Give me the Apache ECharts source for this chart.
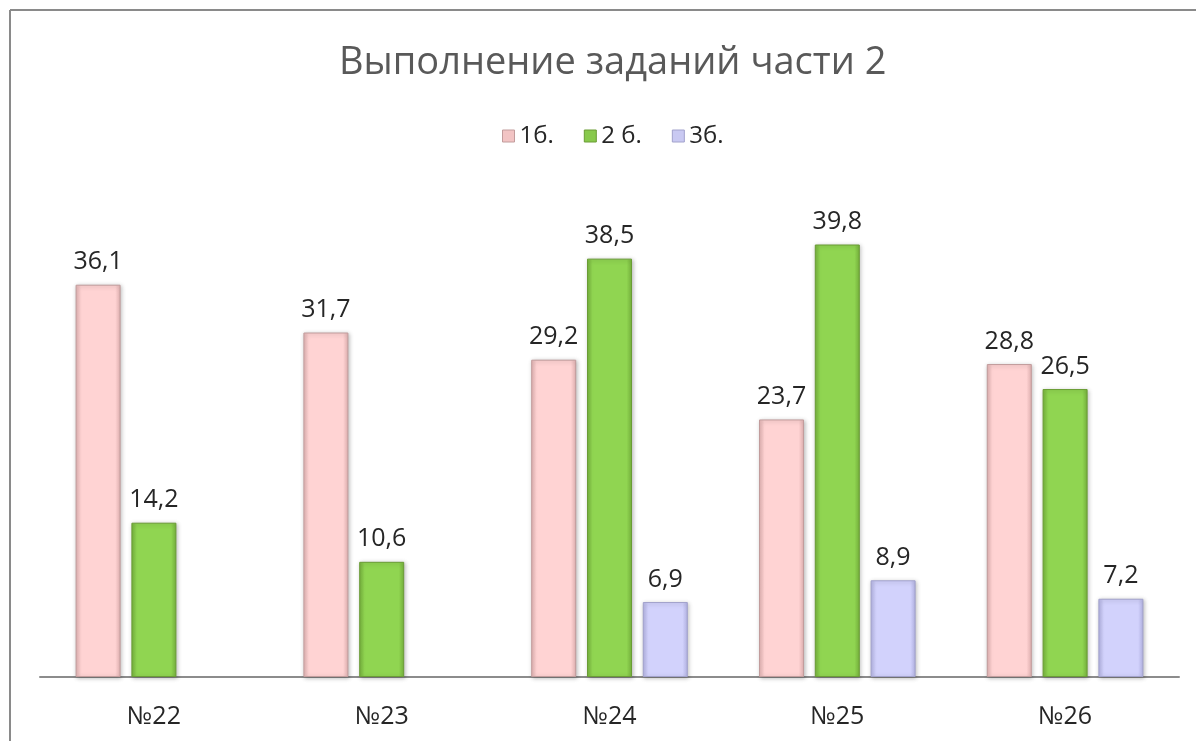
<!DOCTYPE html>
<html>
<head>
<meta charset="utf-8">
<script src="https://cdn.jsdelivr.net/npm/echarts@6/dist/echarts.min.js"></script>
<style>html,body{margin:0;padding:0;background:#fff;}#c{width:1196px;height:741px;}</style>
</head>
<body>
<div id="c"></div>
<script>
const categories = ['№22', '№23', '№24', '№25', '№26'];
const seriesNames = ['1б.', '2 б.', '3б.'];
const s1 = [36.1, 31.7, 29.2, 23.7, 28.8];
const s2 = [14.2, 10.6, 38.5, 39.8, 26.5];
const s3 = [null, null, 6.9, 8.9, 7.2];

const fontFam = '"Open Sans", "Noto Sans", sans-serif';
function grad(edge, mid) {
  return new echarts.graphic.LinearGradient(0, 0, 1, 0, [
    {offset: 0, color: edge}, {offset: 0.12, color: mid}, {offset: 0.88, color: mid}, {offset: 1, color: edge}
  ]);
}
const styles = [
  {fill: grad('#e3b3b3', '#ffd3d3'), border: '#c29c9c', legend: '#f2c4c4'},
  {fill: grad('#77b33d', '#90d551'), border: '#6a9c35', legend: '#88c94c'},
  {fill: grad('#b5b5e6', '#d2d2fc'), border: '#a2a2cc', legend: '#c9c9f2'}
];
const datasets = [s1, s2, s3];
const chart = echarts.init(document.getElementById('c'), null, {renderer: 'canvas'});
chart.setOption({
  backgroundColor: '#fff',
  animation: false,
  title: {
    text: 'Выполнение заданий части 2',
    left: 334, top: 39,
    textStyle: {fontFamily: fontFam, fontSize: 38, fontWeight: 'normal', color: '#595959'}
  },
  legend: {
    top: 119, left: 497,
    itemWidth: 12, itemHeight: 12, itemGap: 30,
    textStyle: {fontFamily: fontFam, fontSize: 24, color: '#262626', padding: [0,0,0,0]},
    data: seriesNames.map((n, i) => ({name: n, icon: 'rect', itemStyle: {color: styles[i].legend, borderColor: styles[i].border, borderWidth: 1}}))
  },
  grid: {left: 40, right: 17, top: 188, bottom: 64, containLabel: false},
  xAxis: {
    type: 'category', data: categories,
    axisLine: {lineStyle: {color: '#8c8c8c', width: 2}},
    axisTick: {show: false},
    axisLabel: {fontFamily: fontFam, fontSize: 25, color: '#262626', margin: 27}
  },
  yAxis: {type: 'value', min: 0, max: 45, show: false, splitLine: {show: false}},
  graphic: [
    {type: 'line', shape: {x1: 10, y1: 10, x2: 1196, y2: 10}, style: {stroke: '#8a8a8a', lineWidth: 2}},
    {type: 'line', shape: {x1: 10, y1: 10, x2: 10, y2: 741}, style: {stroke: '#8a8a8a', lineWidth: 2}}
  ],
  series: datasets.map((d, i) => ({
    name: seriesNames[i], type: 'bar', data: d,
    barWidth: 45, barGap: '24%', barCategoryGap: '31%',
    itemStyle: {color: styles[i].fill, borderColor: styles[i].border, borderWidth: 1, shadowColor: 'rgba(0,0,0,0.25)', shadowBlur: 4, shadowOffsetX: 1, shadowOffsetY: 1},
    label: {show: true, position: 'top', distance: 10, fontFamily: fontFam, fontSize: 25, color: '#262626',
      formatter: p => String(p.value).replace('.', ',')}
  }))
});
</script>
</body>
</html>
